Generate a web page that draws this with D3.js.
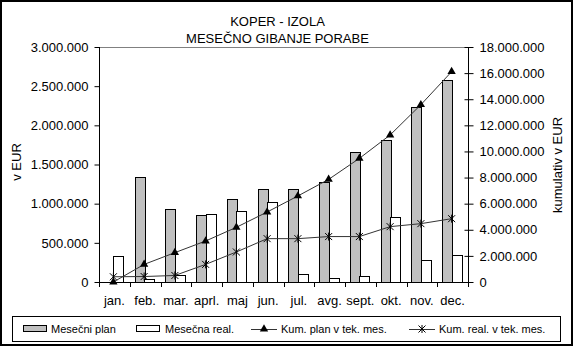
<!DOCTYPE html>
<html><head><meta charset="utf-8">
<script src="https://cdn.jsdelivr.net/npm/d3@7"></script>
<style>
html,body{margin:0;padding:0;background:#fff;}
text{font-family:Arial,"Liberation Sans",sans-serif;fill:#000;}
</style></head>
<body><svg id="c" width="573" height="346"></svg>
<script>
const months = ["jan.","feb.","mar.","aprl.","maj","jun.","jul.","avg.","sept.","okt.","nov.","dec."];
const mesecniPlan = [0,1345000,935000,860000,1065000,1190000,1190000,1275000,1660000,1815000,2235000,2575000];
const mesecnaReal = [335000,35000,85000,870000,900000,1025000,105000,45000,75000,835000,275000,350000];
const kumPlan = [0,1350000,2250000,3140000,4190000,5360000,6590000,7860000,9470000,11260000,13580000,16110000];
const kumReal = [400000,420000,500000,1350000,2300000,3320000,3320000,3480000,3480000,4240000,4470000,4850000];
const leftTicks = [0,500000,1000000,1500000,2000000,2500000,3000000];
const rightTicks = [0,2000000,4000000,6000000,8000000,10000000,12000000,14000000,16000000,18000000];
const titleLines = ["KOPER - IZOLA","MESEČNO GIBANJE PORABE"];
const legendLabels = ["Mesečni plan","Mesečna real.","Kum. plan v tek. mes.","Kum. real. v tek. mes."];

const svg = d3.select("#c");
const fmt = d3.formatLocale({decimal:",",thousands:".",grouping:[3],currency:["",""]}).format(",");
const L=99, R=468, T=47, B=282;

svg.append("rect").attr("x",1).attr("y",1).attr("width",571).attr("height",344)
  .attr("fill","#fff").attr("stroke","#000").attr("stroke-width",2);

const x = d3.scaleBand().domain(months).range([L,R]).padding(0);
const yL = d3.scaleLinear().domain([0,3000000]).range([B,T]);
const yR = d3.scaleLinear().domain([0,18000000]).range([B,T]);
const bw = 9.5;

// top border of plot
svg.append("line").attr("x1",L).attr("x2",R).attr("y1",T+0.5).attr("y2",T+0.5).attr("stroke","#808080");

// bars
const g = svg.append("g").attr("shape-rendering","crispEdges");
g.selectAll(".p").data(months).join("rect")
  .attr("x",d=>Math.round(x(d)+x.bandwidth()/2-1-bw)+0.5)
  .attr("y",(d,i)=>Math.round(yL(mesecniPlan[i]))+0.5)
  .attr("width",bw)
  .attr("height",(d,i)=>Math.max(0,B-Math.round(yL(mesecniPlan[i]))))
  .attr("fill","#c0c0c0").attr("stroke","#000");
g.selectAll(".r").data(months).join("rect")
  .attr("x",d=>Math.round(x(d)+x.bandwidth()/2-1)+0.5)
  .attr("y",(d,i)=>Math.round(yL(mesecnaReal[i]))+0.5)
  .attr("width",bw)
  .attr("height",(d,i)=>Math.max(0,B-Math.round(yL(mesecnaReal[i]))))
  .attr("fill","#fff").attr("stroke","#000");

// axes
const axL = svg.append("g").attr("transform",`translate(${L+0.5},0)`)
  .call(d3.axisLeft(yL).tickValues(leftTicks).tickFormat(fmt).tickSize(5).tickPadding(6));
const axR = svg.append("g").attr("transform",`translate(${R+0.5},0)`)
  .call(d3.axisRight(yR).tickValues(rightTicks).tickFormat(fmt).tickSize(5).tickPadding(6));
axR.selectAll(".tick line").attr("x1",-4);
const xs = d3.scaleLinear().domain([0,12]).range([L,R]);
const axB = svg.append("g").attr("transform",`translate(0,${B+0.5})`)
  .call(d3.axisBottom(x).tickSize(0).tickPadding(13));
axB.selectAll(".tick text").attr("dy","0.71em");
svg.append("g").selectAll("line").data(d3.range(13)).join("line")
  .attr("x1",d=>Math.round(xs(d))+0.5).attr("x2",d=>Math.round(xs(d))+0.5)
  .attr("y1",B).attr("y2",B+5).attr("stroke","#000");
[axL,axR,axB].forEach(a=>{
  a.selectAll("path").attr("stroke","#000");
  a.selectAll("text").style("font-size","13px").style("font-family","Arial, 'Liberation Sans', sans-serif");
  a.select(".domain").attr("d", a===axB ? `M${L},0H${R}` : (a===axL?`M0,${T}V${B}`:`M0,${T}V${B}`));
});

// lines
const cx = (d,i)=>x(months[i])+x.bandwidth()/2-1;
const line = d3.line().x((d,i)=>cx(d,i));
svg.append("path").datum(kumPlan).attr("fill","none").attr("stroke","#333").attr("stroke-width",1)
  .attr("d",line.y(d=>yR(d)));
svg.append("path").datum(kumReal).attr("fill","none").attr("stroke","#333").attr("stroke-width",1)
  .attr("d",d3.line().x((d,i)=>cx(d,i)).y(d=>yR(d)));
const tri = d3.symbol().type(d3.symbolTriangle).size(30);
svg.append("g").selectAll("path").data(kumPlan).join("path")
  .attr("transform",(d,i)=>`translate(${cx(d,i)},${yR(d)})`).attr("d",tri).attr("fill","#000");
const star = "M-3.5,-3.5L3.5,3.5M-3.5,3.5L3.5,-3.5M0,-4V4";
svg.append("g").selectAll("path").data(kumReal).join("path")
  .attr("transform",(d,i)=>`translate(${cx(d,i)},${yR(d)})`).attr("d",star).attr("stroke","#000").attr("fill","none");

// titles
svg.selectAll(".tt").data(titleLines).join("text")
  .attr("x",277.5).attr("y",(d,i)=>26+i*17).attr("text-anchor","middle")
  .style("font-size","13px").text(d=>d);
svg.append("text").attr("transform","translate(21,162) rotate(-90)").attr("text-anchor","middle")
  .style("font-size","13px").text("v EUR");
svg.append("text").attr("transform","translate(562,165) rotate(-90)").attr("text-anchor","middle")
  .style("font-size","13px").text("kumulativ v EUR");

// legend
const lg = svg.append("g");
lg.append("rect").attr("x",12.5).attr("y",316.5).attr("width",548).attr("height",25)
  .attr("fill","#fff").attr("stroke","#000");
const lx = [23,136,251,409];
const ly = 329;
lg.append("rect").attr("x",lx[0]+0.5).attr("y",ly-3.5).attr("width",23).attr("height",6).attr("fill","#c0c0c0").attr("stroke","#000");
lg.append("rect").attr("x",lx[1]+0.5).attr("y",ly-3.5).attr("width",23).attr("height",6).attr("fill","#fff").attr("stroke","#000");
lg.append("line").attr("x1",lx[2]).attr("x2",lx[2]+26).attr("y1",ly+0.5).attr("y2",ly+0.5).attr("stroke","#333");
lg.append("path").attr("transform",`translate(${lx[2]+13},${ly})`).attr("d",tri).attr("fill","#000");
lg.append("line").attr("x1",lx[3]).attr("x2",lx[3]+26).attr("y1",ly+0.5).attr("y2",ly+0.5).attr("stroke","#333");
lg.append("path").attr("transform",`translate(${lx[3]+13},${ly})`).attr("d",star).attr("stroke","#000");
const tx = [51,165,281,439];
lg.selectAll(".lt").data(legendLabels).join("text")
  .attr("x",(d,i)=>tx[i]).attr("y",ly+4).style("font-size","11px").text(d=>d);
</script></body></html>
